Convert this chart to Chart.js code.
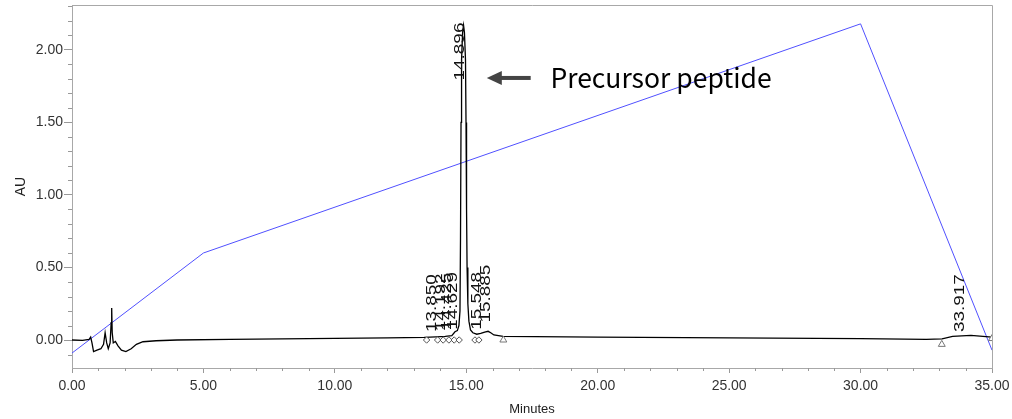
<!DOCTYPE html>
<html>
<head>
<meta charset="utf-8">
<script src="https://cdn.jsdelivr.net/npm/chart.js@4"></script>
<style>
  html, body { margin: 0; padding: 0; background: #fff; }
  #wrap { width: 1012px; height: 419px; }
</style>
</head>
<body>
<div id="wrap"><canvas id="ctx" width="1012" height="419"></canvas></div>
<script>
"use strict";

// chromatogram trace (minutes, AU)
const traceTimes = [0.00, 0.40, 0.65, 0.71, 0.76, 0.82, 0.95, 1.10, 1.20, 1.26, 1.32, 1.38, 1.45, 1.49, 1.51, 1.53, 1.57, 1.65, 1.75, 1.88, 2.05, 2.25, 2.45, 2.70, 3.20, 4.00, 6.00, 9.00, 12.00, 13.40, 13.85, 14.20, 14.45, 14.57, 14.66, 14.72, 14.76, 14.78, 14.80, 14.82, 14.86, 14.896, 14.93, 14.97, 14.99, 15.01, 15.03, 15.06, 15.10, 15.16, 15.25, 15.40, 15.55, 15.70, 15.83, 15.93, 16.05, 16.40, 20.00, 25.00, 30.00, 32.50, 33.10, 33.50, 34.20, 35.00];
const traceValues = [0.000, -0.002, 0.005, 0.020, -0.020, -0.080, -0.070, -0.060, -0.030, 0.050, -0.020, -0.060, -0.020, 0.120, 0.220, 0.050, -0.020, -0.010, -0.040, -0.070, -0.080, -0.060, -0.030, -0.012, -0.005, 0.000, 0.005, 0.010, 0.015, 0.018, 0.022, 0.025, 0.030, 0.057, 0.065, 0.100, 0.200, 0.700, 1.500, 1.930, 2.120, 2.170, 2.120, 1.930, 1.500, 0.900, 0.500, 0.250, 0.130, 0.070, 0.050, 0.040, 0.045, 0.055, 0.060, 0.050, 0.035, 0.025, 0.020, 0.015, 0.010, 0.005, 0.008, 0.025, 0.032, 0.020];

// gradient program (blue)
const gradientTimes = [0, 5, 30, 35];
const gradientValues = [-0.09, 0.60, 2.18, -0.07];

// integration markers
const diamondTimes = [13.49, 13.91, 14.12, 14.34, 14.54, 14.73, 15.33, 15.48];
const diamondValues = [0, 0, 0, 0, 0, 0, 0, 0];
const triangleTimes = [16.41, 33.09, 35.0];
const triangleValues = [0.0, -0.03, 0.01];

// peak labels
const peakNames = ["13.850", "14.192", "14.425", "14.629", "14.896", "15.548", "15.885", "33.917"];
const peakLabelBase = [0.055, 0.06, 0.065, 0.07, 1.79, 0.07, 0.12, 0.055];

const xTicks = [0, 5, 10, 15, 20, 25, 30, 35];
const yTicks = [0, 0.5, 1.0, 1.5, 2.0];

function pts(xs, ys) {
  return xs.map((x, i) => ({ x: x, y: ys[i] }));
}

const extras = {
  id: "extras",
  afterDraw(chart) {
    const c = chart.ctx;
    const xs = chart.scales.x;
    const ys = chart.scales.y;
    const a = chart.chartArea;
    c.save();
    // top and right frame
    c.strokeStyle = "#a8a8a8";
    c.lineWidth = 1;
    c.beginPath();
    c.moveTo(a.left, a.top + 0.5);
    c.lineTo(a.right + 0.5, a.top + 0.5);
    c.lineTo(a.right + 0.5, a.bottom);
    c.stroke();
    // minor ticks
    c.strokeStyle = "#999";
    c.beginPath();
    for (let i = -1; i <= 23; i++) {
      if (i % 5 == 0) continue;
      let py = Math.round(ys.getPixelForValue(i / 10)) + 0.5;
      c.moveTo(a.left - 4, py);
      c.lineTo(a.left, py);
    }
    for (let m = 1; m < 35; m++) {
      if (m % 5 == 0) continue;
      let px = Math.round(xs.getPixelForValue(m)) + 0.5;
      c.moveTo(px, a.bottom);
      c.lineTo(px, a.bottom + 3);
    }
    c.stroke();

    // rotated peak labels
    c.fillStyle = "#111";
    c.font = "14px 'Liberation Sans', Arial, sans-serif";
    c.textAlign = "left";
    c.textBaseline = "alphabetic";
    peakNames.forEach((name, i) => {
      let px = xs.getPixelForValue(parseFloat(name));
      let py = ys.getPixelForValue(peakLabelBase[i]);
      c.save();
      c.translate(px, py);
      c.rotate(-Math.PI / 2);
      c.scale(1.35, 1);
      c.fillText(name, 0, 0);
      c.restore();
    });

    // annotation arrow + text
    let ay = ys.getPixelForValue(1.807);
    let tipX = xs.getPixelForValue(15.78);
    let endX = xs.getPixelForValue(17.45);
    c.fillStyle = "#444";
    c.fillRect(tipX + 12, ay - 2, endX - tipX - 12, 4);
    c.beginPath();
    c.moveTo(tipX, ay);
    c.lineTo(tipX + 15, ay - 7);
    c.lineTo(tipX + 15, ay + 7);
    c.closePath();
    c.fill();
    c.fillStyle = "#000";
    c.font = "26.5px 'Noto Sans CJK KR', 'Noto Sans', sans-serif";
    c.textBaseline = "middle";
    c.fillText("Precursor peptide", xs.getPixelForValue(18.2), ay);
    c.restore();
  }
};

const ctx = document.getElementById("ctx").getContext("2d");
const myChart = new Chart(ctx, {
  type: "scatter",
  data: {
    datasets: [
      {
        data: pts(diamondTimes, diamondValues),
        pointStyle: "rectRot",
        pointRadius: 3.2,
        borderColor: "#555",
        backgroundColor: "#fff",
        borderWidth: 1,
        showLine: false,
      },
      {
        data: pts(triangleTimes, triangleValues),
        pointStyle: "triangle",
        pointRadius: 4,
        borderColor: "#777",
        backgroundColor: "#fff",
        borderWidth: 1,
        showLine: false,
      },
      {
        data: pts(traceTimes, traceValues),
        showLine: true,
        borderColor: "#000",
        borderWidth: 1.3,
        pointRadius: 0,
        tension: 0,
      },
      {
        data: pts(gradientTimes, gradientValues),
        showLine: true,
        borderColor: "#5050ff",
        borderWidth: 1,
        pointRadius: 0,
      },
    ],
  },
  options: {
    responsive: false,
    animation: false,
    events: [],
    layout: { padding: { top: 5, right: 20, left: 0, bottom: 0 } },
    plugins: { legend: { display: false }, tooltip: { enabled: false } },
    scales: {
      x: {
        type: "linear",
        min: 0,
        max: 35,
        afterFit: (s) => { s.height = 51; s.paddingLeft = 0; s.paddingRight = 0; },
        afterBuildTicks: (s) => { s.ticks = xTicks.map((v) => ({ value: v })); },
        ticks: {
          color: "#333",
          font: { family: "'Liberation Sans', Arial, sans-serif", size: 14 },
          padding: 5,
          maxRotation: 0,
          callback: (v) => v.toFixed(2),
        },
        grid: { drawOnChartArea: false, tickLength: 5, tickColor: "#999" },
        border: { color: "#a8a8a8", width: 1 },
        title: {
          display: true,
          text: "Minutes",
          color: "#222",
          font: { family: "'Liberation Sans', Arial, sans-serif", size: 13 },
          padding: { top: 0, bottom: 2 },
        },
      },
      y: {
        type: "linear",
        min: -0.193,
        max: 2.31,
        afterFit: (s) => { s.width = 72; s.paddingTop = 0; s.paddingBottom = 0; },
        afterBuildTicks: (s) => { s.ticks = yTicks.map((v) => ({ value: v })); },
        ticks: {
          color: "#333",
          font: { family: "'Liberation Sans', Arial, sans-serif", size: 14 },
          padding: 1,
          callback: (v) => v.toFixed(2),
        },
        grid: { drawOnChartArea: false, tickLength: 8, tickColor: "#999" },
        border: { color: "#a8a8a8", width: 1 },
        title: {
          display: true,
          text: "AU",
          color: "#222",
          font: { family: "'Liberation Sans', Arial, sans-serif", size: 14 },
          padding: { top: 13, bottom: 0 },
        },
      },
    },
  },
  plugins: [extras],
});
</script>
</body>
</html>
